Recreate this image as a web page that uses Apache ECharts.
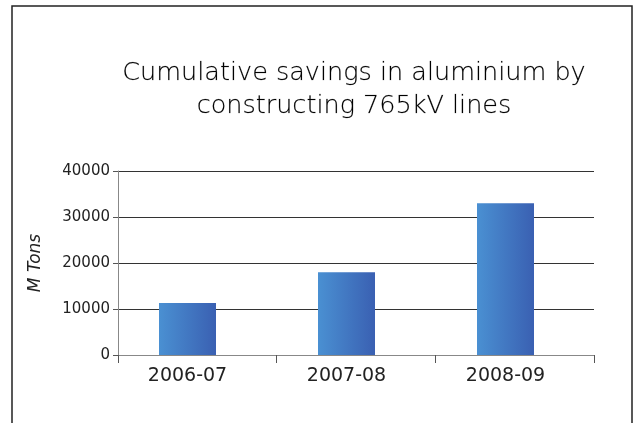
<!DOCTYPE html>
<html>
<head>
<meta charset="utf-8">
<script src="https://cdn.jsdelivr.net/npm/echarts@6/dist/echarts.min.js"></script>
<style>
  html, body { margin: 0; padding: 0; background: #fff; }
  #chart { width: 644px; height: 423px; }
</style>
</head>
<body>
<div id="chart"></div>
<script>
// Cumulative aluminium savings per financial year
const categories = ['2006-07', '2007-08', '2008-09'];
const savings = [11300, 18000, 33000];
const yTicks = [0, 10000, 20000, 30000, 40000];

const titleText = 'Cumulative savings in aluminium by\nconstructing 765kV lines';
const yAxisName = 'M Tons';

const FONT = 'DejaVu Sans';
const yMin = yTicks[0];
const yMax = yTicks[yTicks.length - 1];
const yStep = yTicks[1] - yTicks[0];

const chart = echarts.init(document.getElementById('chart'), null, { renderer: 'canvas' });

const barGradient = new echarts.graphic.LinearGradient(0, 0, 1, 0, [
  { offset: 0, color: '#4a90d2' },
  { offset: 1, color: '#3a60b2' }
]);

chart.setOption({
  backgroundColor: '#ffffff',
  animation: false,
  title: {
    text: titleText,
    left: 349,
    top: 52,
    textAlign: 'center',
    textStyle: {
      fontFamily: FONT,
      fontWeight: 200,
      fontSize: 25.5,
      lineHeight: 33,
      color: '#000',
      textBorderColor: 'rgba(0,0,0,0.35)',
      textBorderWidth: 0.4
    }
  },
  graphic: [{
    type: 'rect',
    shape: { x: 12, y: 6, width: 620, height: 440 },
    style: { fill: 'none', stroke: '#222', lineWidth: 1.5 },
    silent: true,
    z: 100
  }],
  // grid 0: frame axes and gridlines; grid 1: the bars and their category labels
  grid: [
    { left: 118, right: 50, top: 171, bottom: 68 },
    { left: 108, right: 59, top: 171, bottom: 68 }
  ],
  xAxis: [{
    type: 'category',
    gridIndex: 0,
    data: categories,
    axisLine: { lineStyle: { color: '#888', width: 1 } },
    axisTick: { show: true, length: 8, lineStyle: { color: '#555' } },
    axisLabel: { show: false }
  }, {
    type: 'category',
    gridIndex: 1,
    data: categories,
    axisLine: { show: false },
    axisTick: { show: false },
    axisLabel: { fontFamily: FONT, fontSize: 19, color: '#222', margin: 12 }
  }],
  yAxis: [{
    type: 'value',
    gridIndex: 0,
    min: yMin,
    max: yMax,
    interval: yStep,
    name: yAxisName,
    nameLocation: 'middle',
    nameGap: 74,
    nameTextStyle: { fontFamily: FONT, fontStyle: 'italic', fontSize: 17, color: '#222' },
    axisLine: { show: true, lineStyle: { color: '#888', width: 1 } },
    axisTick: { show: true, length: 5, lineStyle: { color: '#555' } },
    axisLabel: { fontFamily: FONT, fontSize: 15, color: '#222', margin: 8, formatter: v => String(v) },
    splitLine: { show: true, lineStyle: { color: '#333', width: 1 } }
  }, {
    type: 'value',
    gridIndex: 1,
    min: yMin,
    max: yMax,
    interval: yStep,
    show: false
  }],
  series: [{
    type: 'bar',
    xAxisIndex: 1,
    yAxisIndex: 1,
    data: savings,
    barWidth: 57,
    itemStyle: { color: barGradient }
  }]
});
</script>
</body>
</html>
